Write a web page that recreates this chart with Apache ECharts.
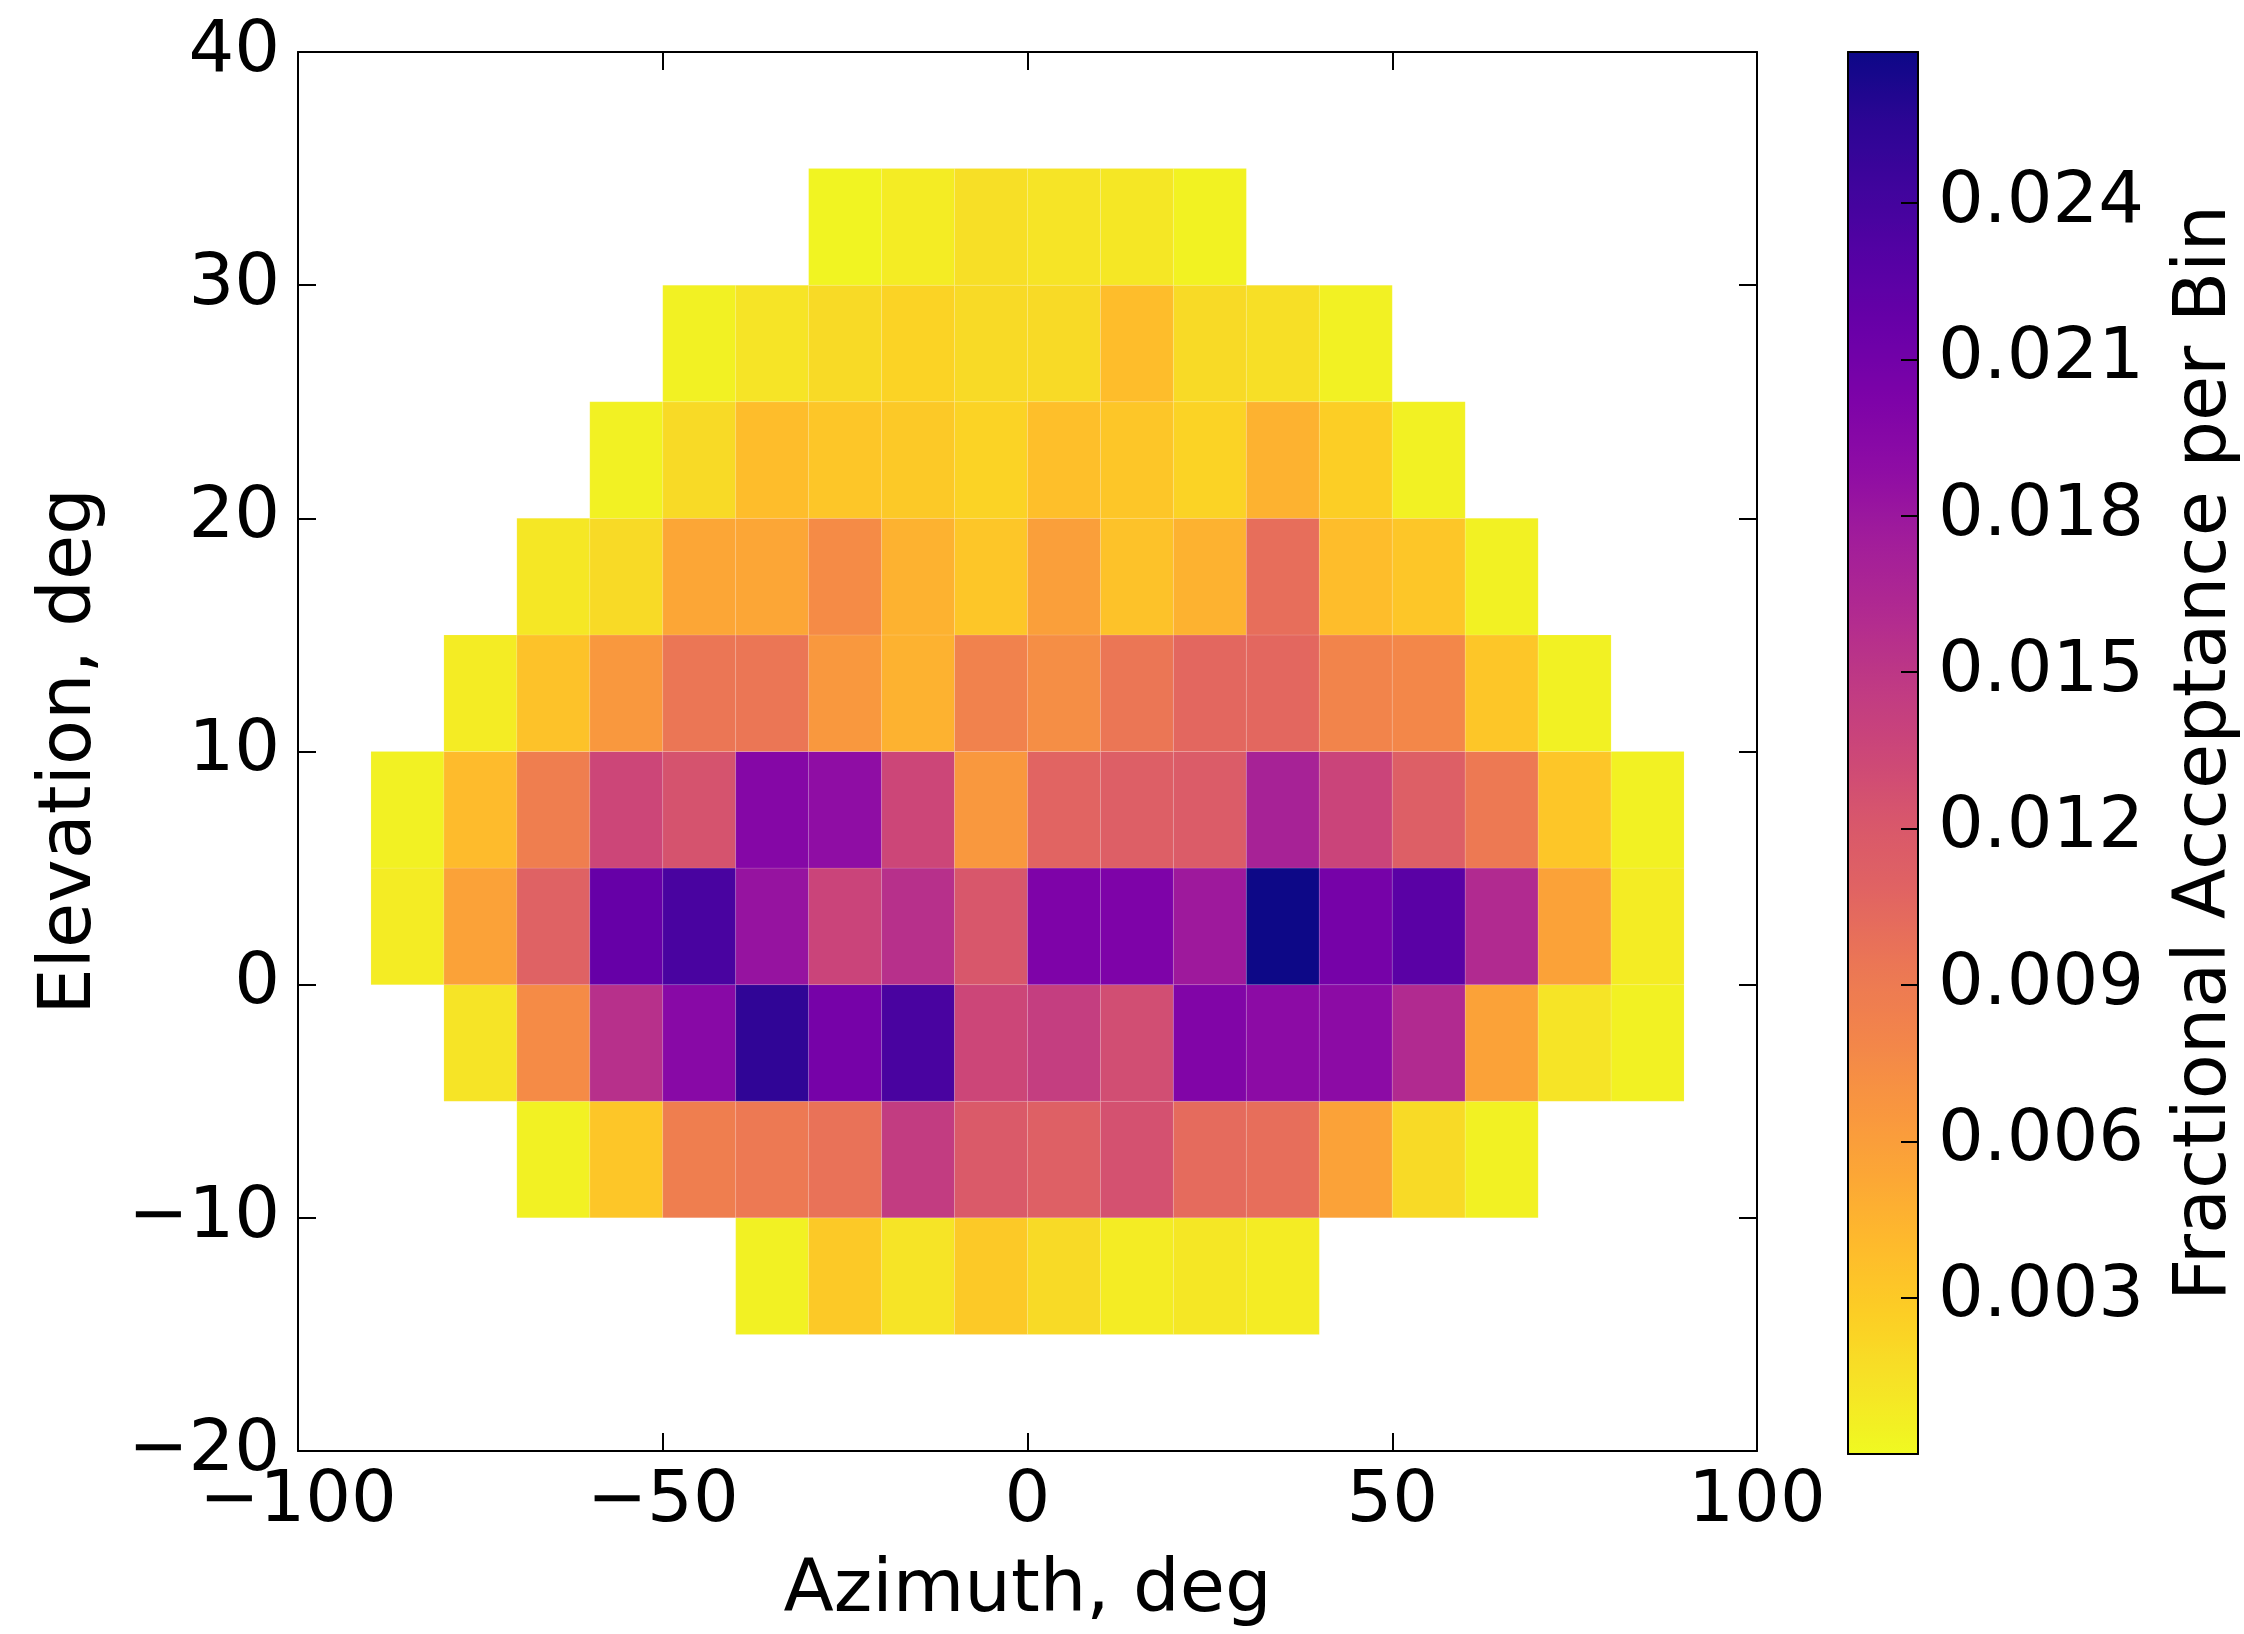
<!DOCTYPE html>
<html>
<head>
<meta charset="utf-8">
<script src="https://cdn.jsdelivr.net/npm/echarts@6/dist/echarts.min.js"></script>
<style>
html,body{margin:0;padding:0;background:#ffffff;}
#chart{width:2244px;height:1634px;}
</style>
</head>
<body>
<div id="chart"></div>
<script>
// ---- Data ----
// Bin edges
const azimuthEdges = [-90,-80,-70,-60,-50,-40,-30,-20,-10,0,10,20,30,40,50,60,70,80,90];
const elevationEdges = [-15,-10,-5,0,5,10,15,20,25,30,35];

// Fractional acceptance per bin, one array per elevation bin (lower edge), azimuth bins -90..80
const accElM15 = [null,null,null,null,null,0.0005,0.0030,0.0013,0.0030,0.0019,0.0008,0.0011,0.0008,null,null,null,null,null];
const accElM10 = [null,null,0.0005,0.0032,0.0086,0.0091,0.0097,0.0145,0.0118,0.0112,0.0126,0.0102,0.0100,0.0057,0.0019,0.0005,null,null];
const accElM5  = [null,0.0013,0.0075,0.0156,0.0194,0.0253,0.0207,0.0237,0.0135,0.0143,0.0129,0.0199,0.0191,0.0191,0.0161,0.0057,0.0013,0.0005];
const accEl0   = [0.0008,0.0057,0.0110,0.0218,0.0237,0.0183,0.0137,0.0156,0.0121,0.0202,0.0202,0.0178,0.0269,0.0207,0.0226,0.0161,0.0057,0.0008];
const accEl5   = [0.0005,0.0040,0.0086,0.0135,0.0124,0.0196,0.0188,0.0135,0.0065,0.0108,0.0113,0.0116,0.0170,0.0137,0.0113,0.0091,0.0032,0.0005];
const accEl10  = [null,0.0008,0.0035,0.0065,0.0094,0.0094,0.0065,0.0046,0.0083,0.0073,0.0094,0.0105,0.0105,0.0081,0.0078,0.0032,0.0005,null];
const accEl15  = [null,null,0.0011,0.0019,0.0054,0.0054,0.0075,0.0046,0.0032,0.0059,0.0035,0.0046,0.0100,0.0038,0.0032,0.0005,null,null];
const accEl20  = [null,null,null,0.0005,0.0019,0.0038,0.0032,0.0030,0.0024,0.0037,0.0032,0.0024,0.0046,0.0027,0.0005,null,null,null];
const accEl25  = [null,null,null,null,0.0005,0.0013,0.0019,0.0024,0.0019,0.0019,0.0038,0.0019,0.0016,0.0005,null,null,null,null];
const accEl30  = [null,null,null,null,null,null,0.0003,0.0008,0.0016,0.0013,0.0011,0.0004,null,null,null,null,null,null];

// Axis ranges / ticks
const xRange = [-100, 100];
const xTickStep = 50;
const yRange = [-20, 40];
const yTickStep = 10;
const colorRange = [0, 0.0269];
const colorTickStep = 0.003;

// Labels
const xTitle = 'Azimuth, deg';
const yTitle = 'Elevation, deg';
const colorTitle = 'Fractional Acceptance per Bin';

// plasma colormap (reversed: low = yellow, high = dark blue)
const plasmaReversed = ['#f0f921','#f6e326','#fcce25','#feba2c','#fca636','#f89540','#f2844b','#eb7655','#e16462','#d8576b','#cc4778','#bf3984','#b12a90','#a21d9a','#8f0da4','#7e03a8','#6a00a8','#5601a4','#41049d','#2c0594','#0d0887'];

// ---- Build ----
const rowsByElevation = [accElM15, accElM10, accElM5, accEl0, accEl5, accEl10, accEl15, accEl20, accEl25, accEl30];
const cells = [];
rowsByElevation.forEach(function (row, r) {
  row.forEach(function (v, c) {
    if (v !== null) {
      cells.push([azimuthEdges[c], elevationEdges[r], v, azimuthEdges[c + 1], elevationEdges[r + 1]]);
    }
  });
});

const FONT = 'DejaVu Sans';
const FS = 72;
const FS_TITLE = 73.5;
const minusFmt = function (v) { return String(v).replace('-', '\u2212'); };

const chart = echarts.init(document.getElementById('chart'), null, {renderer: 'canvas'});

const lineStyle = {color: '#000', width: 2};
const option = {
  backgroundColor: '#ffffff',
  animation: false,
  grid: [
    {left: 298, top: 52, width: 1459, height: 1402, containLabel: false},
    {left: 1848, top: 52, width: 70, height: 1402, containLabel: false}
  ],
  xAxis: [
    {
      gridIndex: 0, type: 'value', position: 'bottom', min: xRange[0], max: xRange[1], interval: xTickStep,
      axisLine: {show: true, onZero: false, lineStyle: lineStyle},
      axisTick: {show: true, inside: true, length: 18, lineStyle: {color: '#000', width: 2}},
      axisLabel: {show: true, margin: 15, fontFamily: FONT, fontSize: FS, color: '#000', formatter: minusFmt},
      splitLine: {show: false},
      name: xTitle, nameLocation: 'middle', nameGap: 104,
      nameTextStyle: {fontFamily: FONT, fontSize: FS_TITLE, color: '#000'}
    },
    {
      gridIndex: 0, type: 'value', position: 'top', min: xRange[0], max: xRange[1], interval: xTickStep,
      axisLine: {show: true, onZero: false, lineStyle: lineStyle},
      axisTick: {show: true, inside: true, length: 18, lineStyle: {color: '#000', width: 2}},
      axisLabel: {show: false}, splitLine: {show: false}
    },
    {
      gridIndex: 1, type: 'value', position: 'bottom', min: 0, max: 1, z: 10,
      axisLine: {show: true, onZero: false, lineStyle: lineStyle},
      axisTick: {show: false}, axisLabel: {show: false}, splitLine: {show: false}
    },
    {
      gridIndex: 1, type: 'value', position: 'top', min: 0, max: 1, z: 10,
      axisLine: {show: true, onZero: false, lineStyle: lineStyle},
      axisTick: {show: false}, axisLabel: {show: false}, splitLine: {show: false}
    }
  ],
  yAxis: [
    {
      gridIndex: 0, type: 'value', position: 'left', min: yRange[0], max: yRange[1], interval: yTickStep,
      axisLine: {show: true, onZero: false, lineStyle: lineStyle},
      axisTick: {show: true, inside: true, length: 18, lineStyle: {color: '#000', width: 2}},
      axisLabel: {show: true, margin: 18, fontFamily: FONT, fontSize: FS, color: '#000', formatter: minusFmt},
      splitLine: {show: false},
      name: yTitle, nameLocation: 'middle', nameGap: 190, nameRotate: 90,
      nameTextStyle: {fontFamily: FONT, fontSize: FS_TITLE, color: '#000'}
    },
    {
      gridIndex: 0, type: 'value', position: 'right', min: yRange[0], max: yRange[1], interval: yTickStep,
      axisLine: {show: true, onZero: false, lineStyle: lineStyle},
      axisTick: {show: true, inside: true, length: 18, lineStyle: {color: '#000', width: 2}},
      axisLabel: {show: false}, splitLine: {show: false}
    },
    {
      gridIndex: 1, type: 'value', position: 'left', min: colorRange[0], max: colorRange[1], z: 10,
      axisLine: {show: true, onZero: false, lineStyle: lineStyle},
      axisTick: {show: false}, axisLabel: {show: false}, splitLine: {show: false}
    },
    {
      gridIndex: 1, type: 'value', position: 'right', min: colorRange[0], max: colorRange[1], interval: colorTickStep, z: 10,
      axisLine: {show: true, onZero: false, lineStyle: lineStyle},
      axisTick: {show: true, inside: true, length: 17, lineStyle: {color: '#000', width: 2}},
      axisLabel: {
        show: true, margin: 20, fontFamily: FONT, fontSize: FS, color: '#000',
        showMinLabel: false, showMaxLabel: false,
        formatter: function (v) { return (v > 0.0001 && v < 0.0255) ? v.toFixed(3) : ''; }
      },
      splitLine: {show: false},
      name: colorTitle, nameLocation: 'middle', nameGap: 251, nameRotate: 90,
      nameTextStyle: {fontFamily: FONT, fontSize: FS_TITLE, color: '#000'}
    }
  ],
  visualMap: {
    type: 'continuous',
    min: colorRange[0], max: colorRange[1],
    dimension: 2,
    seriesIndex: 0,
    orient: 'vertical',
    left: 1848, top: 52,
    itemWidth: 70, itemHeight: 1402,
    padding: 0,
    calculable: false,
    hoverLink: false,
    z: 4,
    inRange: {color: plasmaReversed}
  },
  series: [{
    type: 'custom',
    coordinateSystem: 'cartesian2d',
    xAxisIndex: 0, yAxisIndex: 0,
    encode: {x: [0, 3], y: [1, 4]},
    data: cells,
    renderItem: function (params, api) {
      const p0 = api.coord([api.value(0), api.value(4)]);
      const p1 = api.coord([api.value(3), api.value(1)]);
      return {
        type: 'rect',
        shape: {x: p0[0], y: p0[1], width: p1[0] - p0[0], height: p1[1] - p0[1]},
        style: {fill: api.visual('color'), stroke: 'rgba(255,255,255,0.12)', lineWidth: 1}
      };
    }
  }]
};
chart.setOption(option);
</script>
</body>
</html>
